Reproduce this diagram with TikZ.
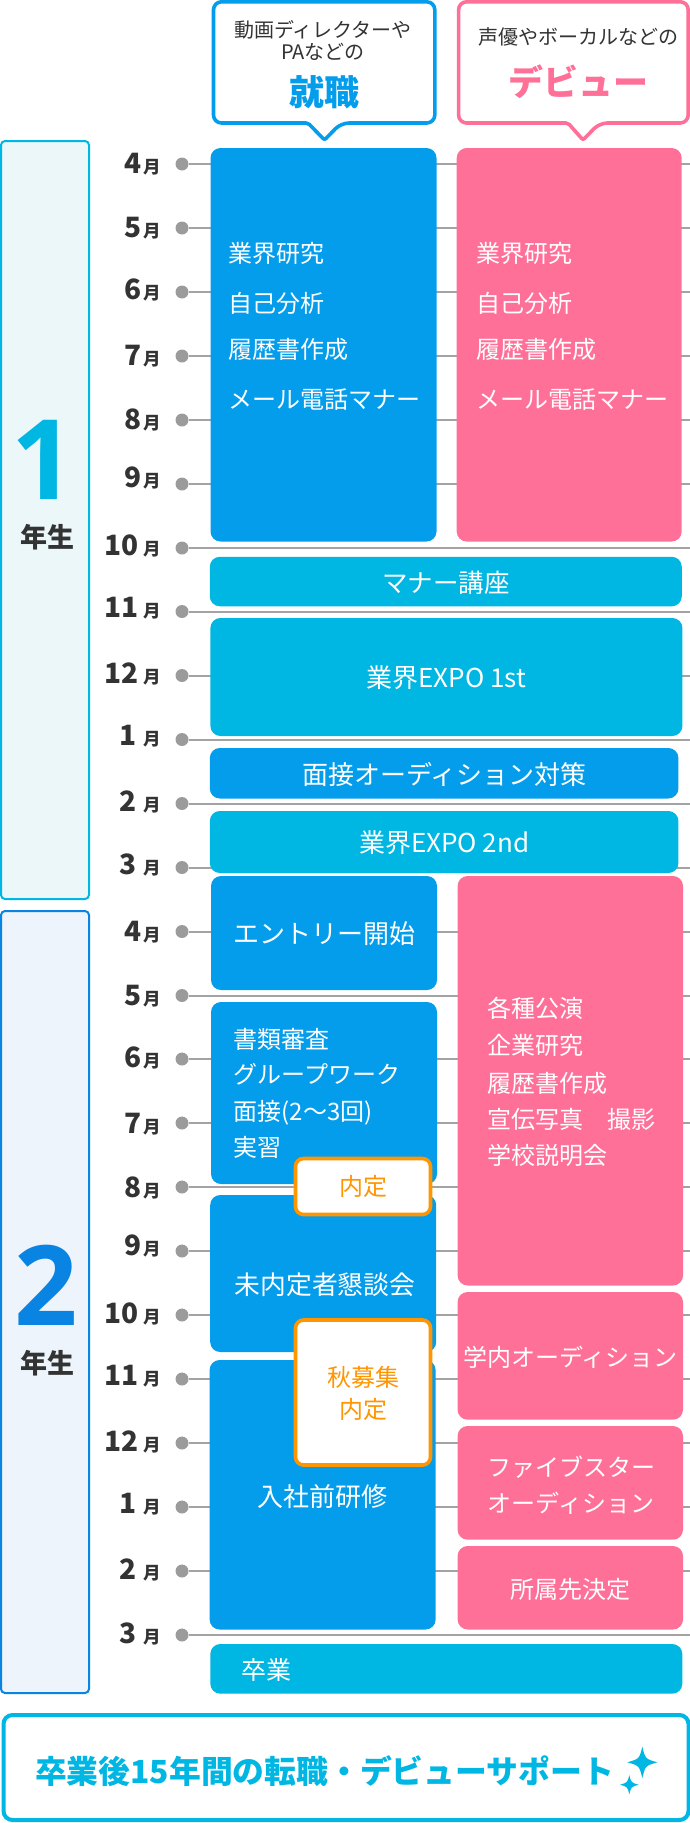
\documentclass[tikz,border=0pt]{standalone}
\usepackage{fontspec}
\setmainfont{Noto Sans CJK JP}
\newfontfamily\yearfont{Open Sans}
\definecolor{jobblue}{HTML}{049DEC}
\definecolor{debutpink}{HTML}{FF7098}
\definecolor{eventcyan}{HTML}{00B6E3}
\definecolor{yeartwo}{HTML}{0984E3}
\definecolor{tagorange}{HTML}{FF9500}
\definecolor{inktext}{HTML}{333333}
\definecolor{gridgray}{HTML}{A3A3A3}
\definecolor{yearonefill}{HTML}{ECF7FA}
\definecolor{yeartwofill}{HTML}{EDF4FB}
\tikzset{
  fs/.style={font=\fontsize{#1}{#1}\selectfont,inner sep=0pt,outer sep=0pt,
    text height=0.88*#1pt,text depth=0.12*#1pt},
  fsb/.style={fs=#1,font=\fontsize{#1}{#1}\selectfont\bfseries},
  yearnum/.style={font=\fontsize{111}{111}\selectfont\yearfont\bfseries,inner sep=0pt,outer sep=0pt,
    text height=79pt,text depth=0pt},
  dot/.style={circle,fill=gridgray!95!black,minimum size=13pt,inner sep=0pt,outer sep=0pt},
  month/.style={fsb=28,anchor=east,text=inktext},
  gridline/.style={gridgray,line width=2pt,yshift=.8pt},
  card/.style={rounded corners=10pt,anchor=north west,inner sep=0pt,outer sep=0pt,
    fs=24,text=white},
  bluecard/.style={card,fill=jobblue},
  pinkcard/.style={card,fill=debutpink},
  cyancard/.style={card,fill=eventcyan},
  tagcard/.style={card,fill=white,draw=tagorange,line width=3.6pt,rounded corners=8pt,fs=24,text=tagorange},
  yearbox/.style={rounded corners=4pt,anchor=north west,inner sep=0pt,outer sep=0pt,line width=2pt},
  balloon/.style={line width=3.6pt,fill=white,rounded corners=8pt,line join=round},
  ontext/.style={fs=24,text=white},
  headtext/.style={fs=20,text=inktext},
  sparkle/.pic={\fill[eventcyan] (0,-1) .. controls (.2,-.22) .. (1,0)
    .. controls (.2,.22) .. (0,1) .. controls (-.2,.22) .. (-1,0)
    .. controls (-.2,-.22) .. cycle;}
}
\newcommand{\tsuki}{{\fontsize{17.5}{17.5}\selectfont 月}}
\newcommand{\gap}{\kern1.5pt}
\begin{document}
\begin{tikzpicture}[x=1pt,y=-1pt]
  \useasboundingbox (0,0) rectangle (690,1823);
  \coordinate (edge) at (690,0);

  % year columns
  \node[yearbox,fill=yearonefill,draw=eventcyan,minimum width=88pt,minimum height=758pt] (year1) at (1,141) {};
  \node[yearbox,fill=yeartwofill,draw=yeartwo,minimum width=88pt,minimum height=782pt] (year2) at (1,911) {};
  \node[yearnum,text=eventcyan] (y1num) at (43,459.5) {1};
  \node[fsb=27,text=inktext] (y1txt) at (47.5,537) {年生};
  \node[yearnum,text=yeartwo] (y2num) at (46,1286.2) {2};
  \node[fsb=27,text=inktext] (y2txt) at (47.5,1363) {年生};

  % months
  \node[dot] (d1) at (182,164) {};
  \node[dot] (d2) at (182,228) {};
  \node[dot] (d3) at (182,292) {};
  \node[dot] (d4) at (182,356) {};
  \node[dot] (d5) at (182,420) {};
  \node[dot] (d6) at (182,484) {};
  \node[dot] (d7) at (182,548) {};
  \node[dot] (d8) at (182,611.5) {};
  \node[dot] (d9) at (182,675.5) {};
  \node[dot] (d10) at (182,739.5) {};
  \node[dot] (d11) at (182,803.5) {};
  \node[dot] (d12) at (182,867.5) {};
  \node[dot] (d13) at (182,931.5) {};
  \node[dot] (d14) at (182,995.5) {};
  \node[dot] (d15) at (182,1059) {};
  \node[dot] (d16) at (182,1123) {};
  \node[dot] (d17) at (182,1187) {};
  \node[dot] (d18) at (182,1251) {};
  \node[dot] (d19) at (182,1315) {};
  \node[dot] (d20) at (182,1379) {};
  \node[dot] (d21) at (182,1443) {};
  \node[dot] (d22) at (182,1507) {};
  \node[dot] (d23) at (182,1571) {};
  \node[dot] (d24) at (182,1635) {};
  \node[month] (m1) at (160.5,162.5) {4\gap\tsuki};
  \node[month] (m2) at (160.5,226.8) {5\gap\tsuki};
  \node[month] (m3) at (160.5,288.5) {6\gap\tsuki};
  \node[month] (m4) at (160.5,355) {7\gap\tsuki};
  \node[month] (m5) at (160.5,419) {8\gap\tsuki};
  \node[month] (m6) at (160.5,477) {9\gap\tsuki};
  \node[month] (m7) at (160.5,545) {10\,\tsuki};
  \node[month] (m8) at (160.5,606.7) {11\,\tsuki};
  \node[month] (m9) at (160.5,673) {12\,\tsuki};
  \node[month] (m10) at (160.5,735) {1\,\gap\tsuki};
  \node[month] (m11) at (160.5,801) {2\,\gap\tsuki};
  \node[month] (m12) at (160.5,864) {3\,\gap\tsuki};
  \node[month] (m13) at (160.5,931) {4\gap\tsuki};
  \node[month] (m14) at (160.5,995) {5\gap\tsuki};
  \node[month] (m15) at (160.5,1057) {6\gap\tsuki};
  \node[month] (m16) at (160.5,1123) {7\gap\tsuki};
  \node[month] (m17) at (160.5,1187) {8\gap\tsuki};
  \node[month] (m18) at (160.5,1245) {9\gap\tsuki};
  \node[month] (m19) at (160.5,1313) {10\,\tsuki};
  \node[month] (m20) at (160.5,1375) {11\,\tsuki};
  \node[month] (m21) at (160.5,1441) {12\,\tsuki};
  \node[month] (m22) at (160.5,1503) {1\,\gap\tsuki};
  \node[month] (m23) at (160.5,1569) {2\,\gap\tsuki};
  \node[month] (m24) at (160.5,1633) {3\,\gap\tsuki};
  \draw[gridline] (d1) -- (d1 -| edge);
  \draw[gridline] (d2) -- (d2 -| edge);
  \draw[gridline] (d3) -- (d3 -| edge);
  \draw[gridline] (d4) -- (d4 -| edge);
  \draw[gridline] (d5) -- (d5 -| edge);
  \draw[gridline] (d6) -- (d6 -| edge);
  \draw[gridline] (d7) -- (d7 -| edge);
  \draw[gridline] (d8) -- (d8 -| edge);
  \draw[gridline] (d9) -- (d9 -| edge);
  \draw[gridline] (d10) -- (d10 -| edge);
  \draw[gridline] (d11) -- (d11 -| edge);
  \draw[gridline] (d12) -- (d12 -| edge);
  \draw[gridline] (d13) -- (d13 -| edge);
  \draw[gridline] (d14) -- (d14 -| edge);
  \draw[gridline] (d15) -- (d15 -| edge);
  \draw[gridline] (d16) -- (d16 -| edge);
  \draw[gridline] (d17) -- (d17 -| edge);
  \draw[gridline] (d18) -- (d18 -| edge);
  \draw[gridline] (d19) -- (d19 -| edge);
  \draw[gridline] (d20) -- (d20 -| edge);
  \draw[gridline] (d21) -- (d21 -| edge);
  \draw[gridline] (d22) -- (d22 -| edge);
  \draw[gridline] (d23) -- (d23 -| edge);
  \draw[gridline] (d24) -- (d24 -| edge);

  % balloons
  \draw[balloon,draw=jobblue] (213.5,1.8) -- (434.8,1.8) -- (434.8,123) -- (341,123)
    [rounded corners=2pt] -- (324.5,140) -- (308,123) [rounded corners=8pt] -- (213.5,123) -- cycle;
  \draw[balloon,draw=debutpink] (458.6,1.8) -- (688.2,1.8) -- (688.2,123) -- (599.5,123)
    [rounded corners=2pt] -- (583,140) -- (568,123) [rounded corners=8pt] -- (458.6,123) -- cycle;
  \node[headtext] (h1a) at (323,29.5) {動画ディレクターや};
  \node[headtext] (h1b) at (323,51.7) {PAなどの};
  \node[fsb=35,text=jobblue] (h1c) at (324,92) {就職};
  \node[headtext] (h2a) at (578,36.4) {声優やボーカルなどの};
  \node[fsb=35,text=debutpink] (h2c) at (578,82) {デビュー};

  % first year
  \node[bluecard,minimum width=226pt,minimum height=393.5pt] (job1) at (210.5,148) {};
  \node[pinkcard,minimum width=225pt,minimum height=393.5pt] (deb1) at (456.7,148) {};
  \node[ontext,anchor=west] (job1a) at (228.8,253.3) {業界研究};
  \node[ontext,anchor=west] (job1b) at (228.8,303) {自己分析};
  \node[ontext,anchor=west] (job1c) at (228.8,349) {履歴書作成};
  \node[ontext,anchor=west] (job1d) at (228.8,399) {メール電話マナー};
  \node[ontext,anchor=west] (deb1a) at (476.6,253.3) {業界研究};
  \node[ontext,anchor=west] (deb1b) at (476.6,303) {自己分析};
  \node[ontext,anchor=west] (deb1c) at (476.6,349) {履歴書作成};
  \node[ontext,anchor=west] (deb1d) at (476.6,399) {メール電話マナー};
  \node[cyancard,fs=25.5,text depth=1pt,minimum width=472pt,minimum height=49.5pt] (manner) at (209.8,556.8) {マナー講座};
  \node[cyancard,fs=26,text depth=1pt,minimum width=472pt,minimum height=118pt] (expo1) at (210.4,618) {業界EXPO 1st};
  \node[bluecard,fs=26,text depth=1pt,minimum width=468.6pt,minimum height=50.5pt] (prep) at (209.8,748) {面接オーディション対策};
  \node[cyancard,fs=26,text depth=1pt,minimum width=468.6pt,minimum height=62pt] (expo2) at (209.8,811) {業界EXPO 2nd};

  % second year, job side
  \node[bluecard,fs=26,text depth=1pt,minimum width=226pt,minimum height=114pt] (entry) at (211,876) {エントリー開始};
  \node[bluecard,minimum width=226pt,minimum height=182pt] (select) at (211,1002) {};
  \node[ontext,anchor=west] (sel1) at (233.8,1039.3) {書類審査};
  \node[ontext,anchor=west] (sel2) at (233.8,1074.6) {グループワーク};
  \node[ontext,anchor=west] (sel3) at (233.8,1110.9) {面接(2〜3回)};
  \node[ontext,anchor=west] (sel4) at (233.8,1147.3) {実習};
  \node[bluecard,minimum width=226pt,minimum height=157pt] (meet) at (210.2,1195) {};
  \node[ontext,fs=25.8] (meettxt) at (325,1285) {未内定者懇談会};
  \node[bluecard,minimum width=226pt,minimum height=269.5pt] (train) at (209.6,1360) {};
  \node[ontext,fs=26] (traintxt) at (322.5,1496.4) {入社前研修};
  \node[tagcard,minimum width=135pt,minimum height=56pt] (offer1) at (295.5,1158.5) {内定};
  \node[tagcard,minimum width=135pt,minimum height=145pt] (offer2) at (295.5,1320) {};
  \node[fs=24,text=tagorange] (off2a) at (363.5,1377.6) {秋募集};
  \node[fs=24,text=tagorange] (off2b) at (363.5,1409.4) {内定};

  % second year, debut side
  \node[pinkcard,minimum width=225.4pt,minimum height=409.5pt] (deb2) at (457.6,876) {};
  \node[ontext,anchor=west] (deb2a) at (487,1008.7) {各種公演};
  \node[ontext,anchor=west] (deb2b) at (487,1045) {企業研究};
  \node[ontext,anchor=west] (deb2c) at (487,1083) {履歴書作成};
  \node[ontext,anchor=west] (deb2d) at (487,1119.7) {宣伝写真　撮影};
  \node[ontext,anchor=west] (deb2e) at (487,1155) {学校説明会};
  \node[pinkcard,text height=25pt,minimum width=225.4pt,minimum height=127.7pt] (aud) at (457.6,1292) {学内オーディション};
  \node[pinkcard,minimum width=225.4pt,minimum height=113.7pt] (five) at (457.6,1426) {};
  \node[ontext] (five1) at (571,1467) {ファイブスター};
  \node[ontext] (five2) at (571,1503) {オーディション};
  \node[pinkcard,text height=25pt,minimum width=225.4pt,minimum height=83.5pt] (agency) at (457.6,1546) {所属先決定};
  \node[cyancard,minimum width=472pt,minimum height=49.7pt] (grad) at (210.3,1644) {};
  \node[ontext,fs=25,anchor=west] (gradtxt) at (241,1670) {卒業};

  % support banner
  \node[yearbox,fill=white,draw=eventcyan,line width=4pt,rounded corners=9pt,
    minimum width=685pt,minimum height=105pt] (support) at (3.5,1715) {};
  \node[fsb=31.8,text=eventcyan] (suptxt) at (324.5,1771) {卒業後15年間の転職・デビューサポート};
  \pic[xscale=15,yscale=15.7] at (642.3,1762.3) {sparkle};
  \pic[xscale=9.3,yscale=9.7] at (629.3,1784.7) {sparkle};
\end{tikzpicture}
\end{document}
